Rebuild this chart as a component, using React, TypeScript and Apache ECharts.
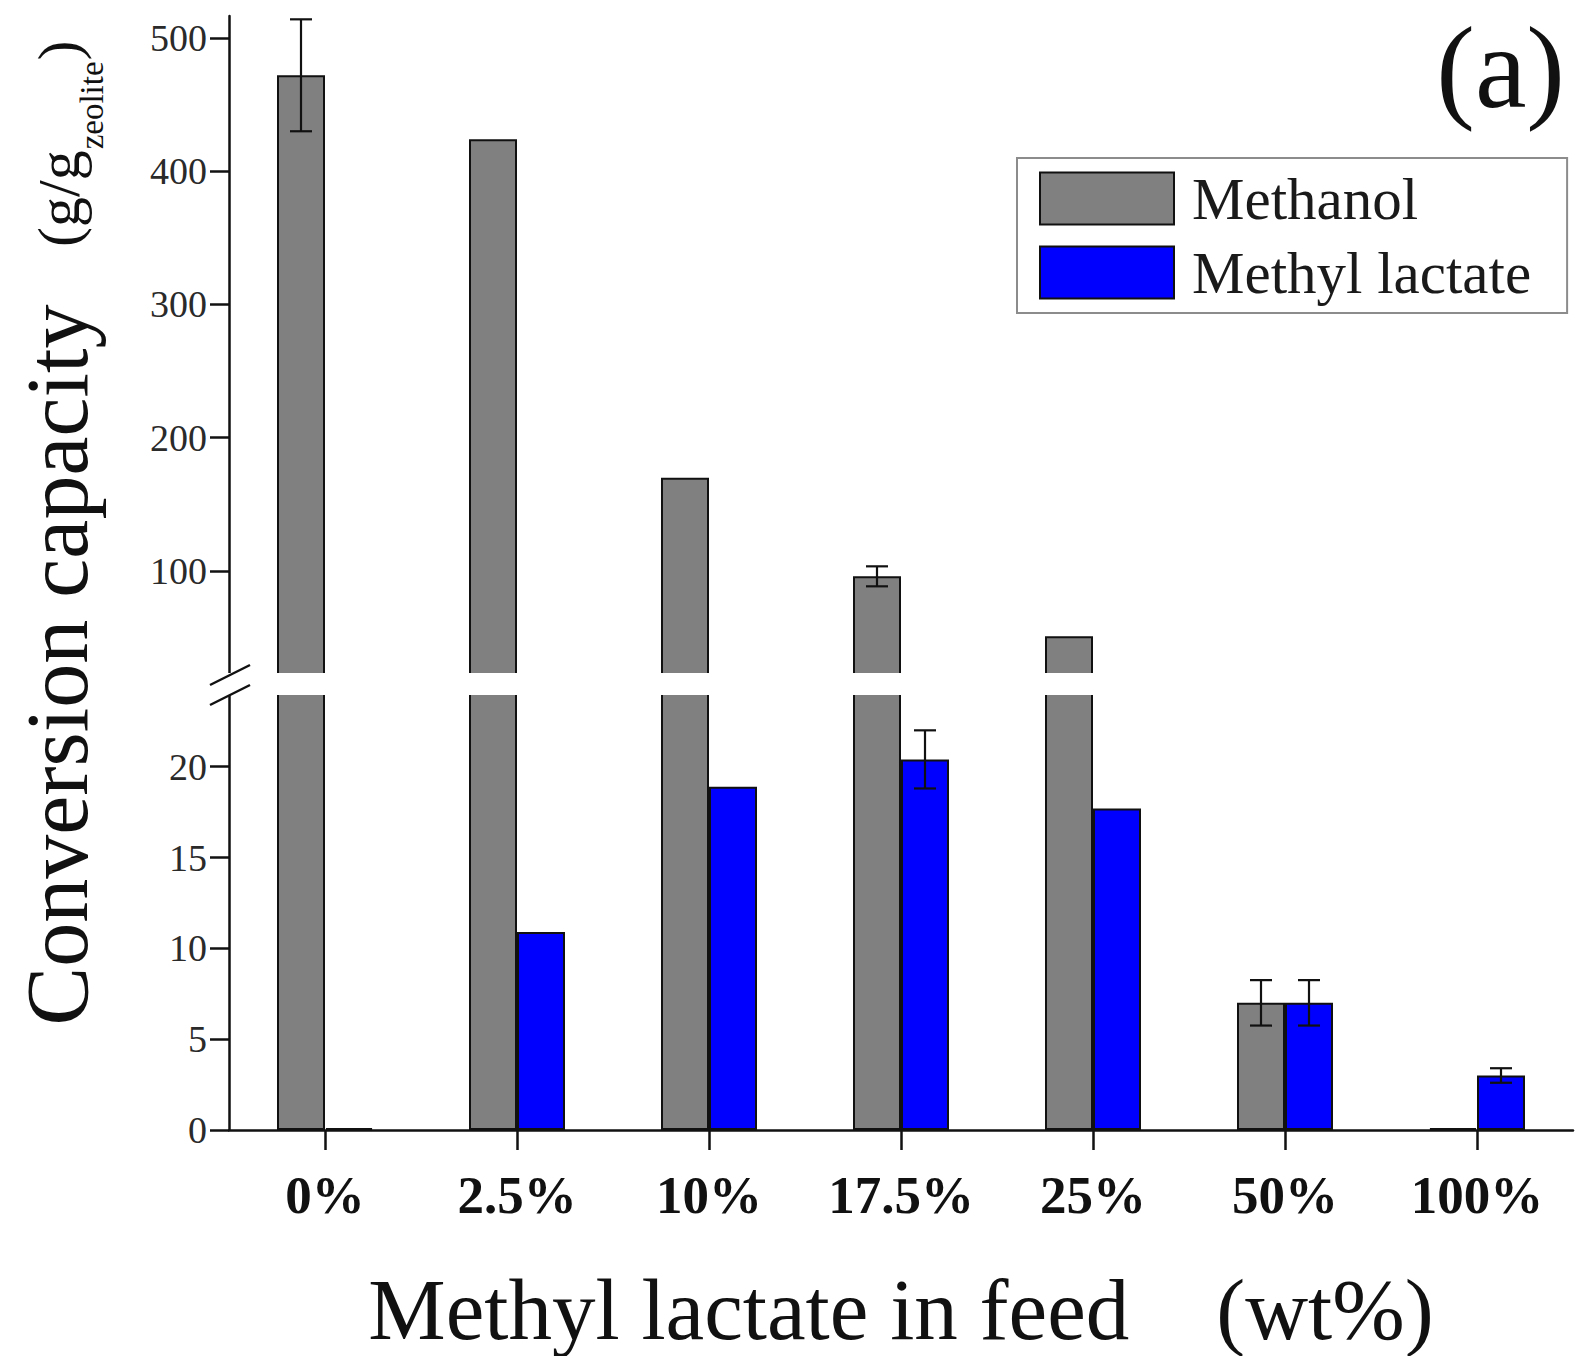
import React, { useEffect, useRef } from "react";
import * as echarts from "echarts";

// Feed composition (wt% methyl lactate) and measured conversion capacities (g/g zeolite)
const categories = ["0%", "2.5%", "10%", "17.5%", "25%", "50%", "100%"];
const methanol = [472, 424, 170, 96, 51, 7.0, 0.1];
const methanolErr = [42, 0, 0, 7.5, 0, 1.25, 0];
const methylLactate = [0.1, 10.9, 18.9, 20.4, 17.7, 7.0, 3.0];
const methylLactateErr = [0, 0, 0, 1.6, 0, 1.25, 0.4];

// Broken value axis: upper and lower segments
const upperRange = [22.7, 516.5];
const lowerRange = [0, 24];
const upperTicks = [100, 200, 300, 400, 500];
const lowerTicks = [0, 5, 10, 15, 20];

const SERIF = '"Liberation Serif", "Times New Roman", serif';
const INK = "#111";
const BAR_WIDTH = 48;
const GREY = "#808080";
const BLUE = "#0000ff";

function textWidth(text: string, size: number): number {
  const ctx = document.createElement("canvas").getContext("2d");
  if (!ctx) return text.length * size * 0.5;
  ctx.font = `${size}px "Liberation Serif"`;
  return ctx.measureText(text).width;
}

function barSeries(name: string, values: number[], color: string, axis: number) {
  return {
    type: "bar",
    name,
    xAxisIndex: axis,
    yAxisIndex: axis,
    data: values,
    barWidth: BAR_WIDTH,
    barGap: "0%",
    clip: true,
    itemStyle: { color, borderColor: INK, borderWidth: 2 },
  };
}

function errorSeries(name: string, values: number[], errs: number[], axis: number, side: number) {
  return {
    type: "custom",
    name,
    xAxisIndex: axis,
    yAxisIndex: axis,
    clip: true,
    silent: true,
    z: 5,
    encode: { x: 0, y: 1 },
    data: values.map((v, i) => [i, v, errs[i]]),
    renderItem: (_params: any, api: any) => {
      const err = api.value(2);
      if (!err) return null;
      const i = api.value(0);
      const v = api.value(1);
      const hi = api.coord([i, v + err]);
      const lo = api.coord([i, v - err]);
      const x = hi[0] + (side * BAR_WIDTH) / 2;
      const cap = 11;
      const style = { stroke: INK, lineWidth: 2.2 };
      return {
        type: "group",
        children: [
          { type: "line", shape: { x1: x, y1: hi[1], x2: x, y2: lo[1] }, style },
          { type: "line", shape: { x1: x - cap, y1: hi[1], x2: x + cap, y2: hi[1] }, style },
          { type: "line", shape: { x1: x - cap, y1: lo[1], x2: x + cap, y2: lo[1] }, style },
        ],
      };
    },
  };
}

function valueAxis(grid: number, range: number[], ticks: number[]) {
  return {
    type: "value",
    gridIndex: grid,
    min: range[0],
    max: range[1],
    axisLine: { show: true, lineStyle: { color: INK, width: 2.5 } },
    axisTick: {
      show: true,
      length: 19,
      customValues: ticks,
      lineStyle: { color: INK, width: 2.5 },
    },
    axisLabel: {
      customValues: ticks,
      margin: 22,
      fontFamily: SERIF,
      fontSize: 38,
      color: "#2a2a2a",
    },
    splitLine: { show: false },
  };
}

export default function App() {
  const ref = useRef<HTMLDivElement>(null);

  useEffect(() => {
    if (!ref.current) return;
    const chart = echarts.init(ref.current, null, { renderer: "svg" });

    // Unit label pieces: "(g/g" + subscript "zeolite" + ")"
    const mainSize = 60;
    const subSize = 33;
    const w1 = textWidth("(g/g", mainSize);
    const w2 = textWidth("zeolite", subSize);

    chart.setOption({
      animation: false,
      backgroundColor: "#fff",
      textStyle: { fontFamily: SERIF },
      grid: [
        { left: 229, right: 6, top: 16, height: 658, outerBoundsMode: "none" },
        { left: 229, right: 6, top: 694, height: 436, outerBoundsMode: "none" },
      ],
      legend: {
        orient: "vertical",
        left: 1017,
        top: 158,
        padding: [11, 36, 11, 22],
        itemWidth: 134,
        itemHeight: 52,
        itemGap: 15,
        icon: "rect",
        borderColor: "#8c8c8c",
        borderWidth: 2,
        selectedMode: false,
        data: ["Methanol", "Methyl lactate"],
        textStyle: {
          fontFamily: SERIF,
          fontSize: 59,
          color: "#1a1a1a",
          lineHeight: 52,
          padding: [0, 0, 0, 13],
        },
      },
      xAxis: [
        {
          type: "category",
          gridIndex: 0,
          data: categories,
          show: false,
        },
        {
          type: "category",
          gridIndex: 1,
          data: categories,
          axisLine: { show: true, lineStyle: { color: INK, width: 2.5 } },
          axisTick: {
            show: true,
            alignWithLabel: true,
            length: 20,
            lineStyle: { color: INK, width: 2.5 },
          },
          axisLabel: {
            margin: 38,
            fontFamily: SERIF,
            fontSize: 53,
            fontWeight: "bold",
            color: INK,
          },
          name: "Methyl lactate in feed    (wt%)",
          nameLocation: "middle",
          nameGap: 144,
          nameTextStyle: { fontFamily: SERIF, fontSize: 87, lineHeight: 70, color: INK },
        },
      ],
      yAxis: [valueAxis(0, upperRange, upperTicks), valueAxis(1, lowerRange, lowerTicks)],
      series: [
        barSeries("Methanol", methanol, GREY, 0),
        barSeries("Methyl lactate", methylLactate, BLUE, 0),
        barSeries("Methanol", methanol, GREY, 1),
        barSeries("Methyl lactate", methylLactate, BLUE, 1),
        errorSeries("Methanol", methanol, methanolErr, 0, -1),
        errorSeries("Methyl lactate", methylLactate, methylLactateErr, 0, 1),
        errorSeries("Methanol", methanol, methanolErr, 1, -1),
        errorSeries("Methyl lactate", methylLactate, methylLactateErr, 1, 1),
      ],
      graphic: [
        // gap between the two axis segments
        {
          type: "rect",
          z: 10,
          silent: true,
          shape: { x: 226, y: 673, width: 1353, height: 22 },
          style: { fill: "#fff" },
        },
        {
          type: "line",
          z: 11,
          shape: { x1: 210, y1: 685, x2: 250, y2: 665 },
          style: { stroke: INK, lineWidth: 2.5 },
        },
        {
          type: "line",
          z: 11,
          shape: { x1: 210, y1: 705, x2: 250, y2: 685 },
          style: { stroke: INK, lineWidth: 2.5 },
        },
        // panel letter
        {
          type: "text",
          z: 11,
          x: 1565,
          y: 68,
          style: {
            text: "(a)",
            fontFamily: SERIF,
            fontSize: 116,
            lineHeight: 96,
            fill: INK,
            align: "right",
            verticalAlign: "middle",
            textAlign: "right",
            textVerticalAlign: "middle",
          },
        },
        // y-axis title
        {
          type: "text",
          z: 11,
          x: 57,
          y: 665,
          rotation: Math.PI / 2,
          style: {
            text: "Conversion capacity",
            fontFamily: SERIF,
            fontSize: 88,
            fill: INK,
            align: "center",
            verticalAlign: "middle",
            textAlign: "center",
            textVerticalAlign: "middle",
          },
        },
        {
          type: "group",
          z: 11,
          x: 0,
          y: 247,
          rotation: Math.PI / 2,
          children: [
            {
              type: "text",
              x: 0,
              y: 59,
              style: {
                text: "(g/g",
                fontFamily: SERIF,
                fontSize: mainSize,
                fill: INK,
                align: "left",
                verticalAlign: "middle",
                textAlign: "left",
                textVerticalAlign: "middle",
              },
            },
            {
              type: "text",
              x: w1 + 1,
              y: 92,
              style: {
                text: "zeolite",
                fontFamily: SERIF,
                fontSize: subSize,
                fill: INK,
                align: "left",
                verticalAlign: "middle",
                textAlign: "left",
                textVerticalAlign: "middle",
              },
            },
            {
              type: "text",
              x: w1 + w2 + 2,
              y: 59,
              style: {
                text: ")",
                fontFamily: SERIF,
                fontSize: mainSize,
                fill: INK,
                align: "left",
                verticalAlign: "middle",
                textAlign: "left",
                textVerticalAlign: "middle",
              },
            },
          ],
        },
      ],
    });

    return () => chart.dispose();
  }, []);

  return (
    <div
      ref={ref}
      style={{ position: "absolute", left: 0, top: 0, width: 1579, height: 1356, background: "#fff" }}
    />
  );
}
